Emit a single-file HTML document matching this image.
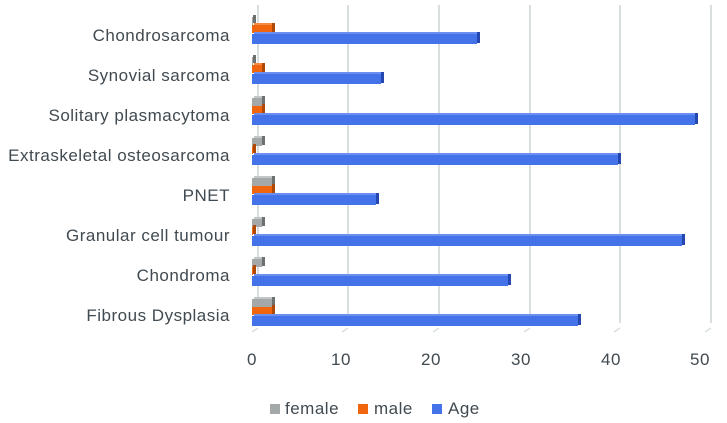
<!DOCTYPE html>
<html><head><meta charset="utf-8"><style>
html,body{margin:0;padding:0;background:#fff;}
svg{display:block;font-family:"Liberation Sans",sans-serif;}
.ff{fill:#a5a8a8}.ft{fill:#c4c6c6}.fs{fill:#6d7070}
.mf{fill:#f0660f}.mt{fill:#f58a45}.ms{fill:#b04808}
.af{fill:#4472e8}.at{fill:#6a8ff0}.as{fill:#2448b0}
</style></head><body>
<svg width="727" height="423" viewBox="0 0 727 423" xmlns="http://www.w3.org/2000/svg">
<g stroke="#d9dede" stroke-width="2">
<line x1="258" y1="5" x2="258" y2="323"/><line x1="348" y1="5" x2="348" y2="323"/>
<line x1="439" y1="5" x2="439" y2="323"/><line x1="530" y1="5" x2="530" y2="323"/>
<line x1="620" y1="5" x2="620" y2="323"/><line x1="711" y1="5" x2="711" y2="323"/>
</g>
<g stroke="#d9dede" stroke-width="1.5">
<line x1="252" y1="332" x2="258" y2="328"/><line x1="342" y1="332" x2="348" y2="328"/>
<line x1="433" y1="332" x2="439" y2="328"/><line x1="524" y1="332" x2="530" y2="328"/>
<line x1="614" y1="332" x2="620" y2="328"/><line x1="705" y1="332" x2="711" y2="328"/>
</g>

<!-- Row 1 a=34 -->
<g transform="translate(0,34)">
<rect class="ff" x="252" y="-17" width="1" height="8"/><rect class="fs" x="253" y="-19" width="3" height="8"/>
<rect class="mf" x="252" y="-9" width="20" height="8"/><rect class="mt" x="254" y="-11" width="21" height="2"/><rect class="ms" x="272" y="-11" width="3" height="9"/>
<rect class="af" x="252" y="0" width="225" height="10"/><rect class="at" x="254" y="-2" width="226" height="2"/><rect class="as" x="477" y="-2" width="3" height="11"/>
</g>
<!-- Row 2 a=74 -->
<g transform="translate(0,74)">
<rect class="ff" x="252" y="-17" width="1" height="8"/><rect class="fs" x="253" y="-19" width="3" height="8"/>
<rect class="mf" x="252" y="-9" width="10" height="8"/><rect class="mt" x="254" y="-11" width="11" height="2"/><rect class="ms" x="262" y="-11" width="3" height="9"/>
<rect class="af" x="252" y="0" width="129" height="10"/><rect class="at" x="254" y="-2" width="130" height="2"/><rect class="as" x="381" y="-2" width="3" height="11"/>
</g>
<!-- Row 3 a=115 -->
<g transform="translate(0,115)">
<rect class="ff" x="252" y="-17" width="10" height="8"/><rect class="ft" x="254" y="-19" width="11" height="2"/><rect class="fs" x="262" y="-19" width="3" height="9"/>
<rect class="mf" x="252" y="-9" width="10" height="8"/><rect class="ms" x="262" y="-11" width="3" height="9"/>
<rect class="af" x="252" y="0" width="443" height="10"/><rect class="at" x="254" y="-2" width="444" height="2"/><rect class="as" x="695" y="-2" width="3" height="11"/>
</g>
<!-- Row 4 a=155 -->
<g transform="translate(0,155)">
<rect class="ff" x="252" y="-17" width="10" height="8"/><rect class="ft" x="254" y="-19" width="11" height="2"/><rect class="fs" x="262" y="-19" width="3" height="9"/>
<rect class="mf" x="252" y="-9" width="1" height="8"/><rect class="ms" x="253" y="-11" width="3" height="9"/>
<rect class="af" x="252" y="0" width="366" height="10"/><rect class="at" x="254" y="-2" width="367" height="2"/><rect class="as" x="618" y="-2" width="3" height="11"/>
</g>
<!-- Row 5 a=195 -->
<g transform="translate(0,195)">
<rect class="ff" x="252" y="-17" width="20" height="8"/><rect class="ft" x="254" y="-19" width="21" height="2"/><rect class="fs" x="272" y="-19" width="3" height="9"/>
<rect class="mf" x="252" y="-9" width="20" height="8"/><rect class="ms" x="272" y="-11" width="3" height="9"/>
<rect class="af" x="252" y="0" width="124" height="10"/><rect class="at" x="254" y="-2" width="125" height="2"/><rect class="as" x="376" y="-2" width="3" height="11"/>
</g>
<!-- Row 6 a=236 -->
<g transform="translate(0,236)">
<rect class="ff" x="252" y="-17" width="10" height="8"/><rect class="ft" x="254" y="-19" width="11" height="2"/><rect class="fs" x="262" y="-19" width="3" height="9"/>
<rect class="mf" x="252" y="-9" width="1" height="8"/><rect class="ms" x="253" y="-11" width="3" height="9"/>
<rect class="af" x="252" y="0" width="430" height="10"/><rect class="at" x="254" y="-2" width="431" height="2"/><rect class="as" x="682" y="-2" width="3" height="11"/>
</g>
<!-- Row 7 a=276 -->
<g transform="translate(0,276)">
<rect class="ff" x="252" y="-17" width="10" height="8"/><rect class="ft" x="254" y="-19" width="11" height="2"/><rect class="fs" x="262" y="-19" width="3" height="9"/>
<rect class="mf" x="252" y="-9" width="1" height="8"/><rect class="ms" x="253" y="-11" width="3" height="9"/>
<rect class="af" x="252" y="0" width="256" height="10"/><rect class="at" x="254" y="-2" width="257" height="2"/><rect class="as" x="508" y="-2" width="3" height="11"/>
</g>
<!-- Row 8 a=316 -->
<g transform="translate(0,316)">
<rect class="ff" x="252" y="-17" width="20" height="8"/><rect class="ft" x="254" y="-19" width="21" height="2"/><rect class="fs" x="272" y="-19" width="3" height="9"/>
<rect class="mf" x="252" y="-9" width="20" height="8"/><rect class="ms" x="272" y="-11" width="3" height="9"/>
<rect class="af" x="252" y="0" width="326" height="10"/><rect class="at" x="254" y="-2" width="327" height="2"/><rect class="as" x="578" y="-2" width="3" height="11"/>
</g>

<g font-size="17" fill="#404a50" text-anchor="end" letter-spacing="0.5">
<text x="230" y="41">Chondrosarcoma</text>
<text x="230" y="81">Synovial sarcoma</text>
<text x="230" y="121">Solitary plasmacytoma</text>
<text x="230" y="161">Extraskeletal osteosarcoma</text>
<text x="230" y="201">PNET</text>
<text x="230" y="241">Granular cell tumour</text>
<text x="230" y="281">Chondroma</text>
<text x="230" y="321">Fibrous Dysplasia</text>
</g>
<g font-size="17" fill="#404a50" text-anchor="middle" letter-spacing="0.5">
<text x="252" y="365">0</text><text x="341" y="365">10</text><text x="431" y="365">20</text>
<text x="521" y="365">30</text><text x="611" y="365">40</text><text x="700" y="365">50</text>
</g>
<g font-size="17" fill="#404a50" letter-spacing="0.5">
<rect x="270" y="404" width="10" height="10" fill="#a5a8a8"/><text x="285" y="414">female</text>
<rect x="358" y="404" width="10" height="10" fill="#f0660f"/><text x="374" y="414">male</text>
<rect x="432" y="404" width="10" height="10" fill="#4472e8"/><text x="448" y="414">Age</text>
</g>
</svg>
</body></html>
